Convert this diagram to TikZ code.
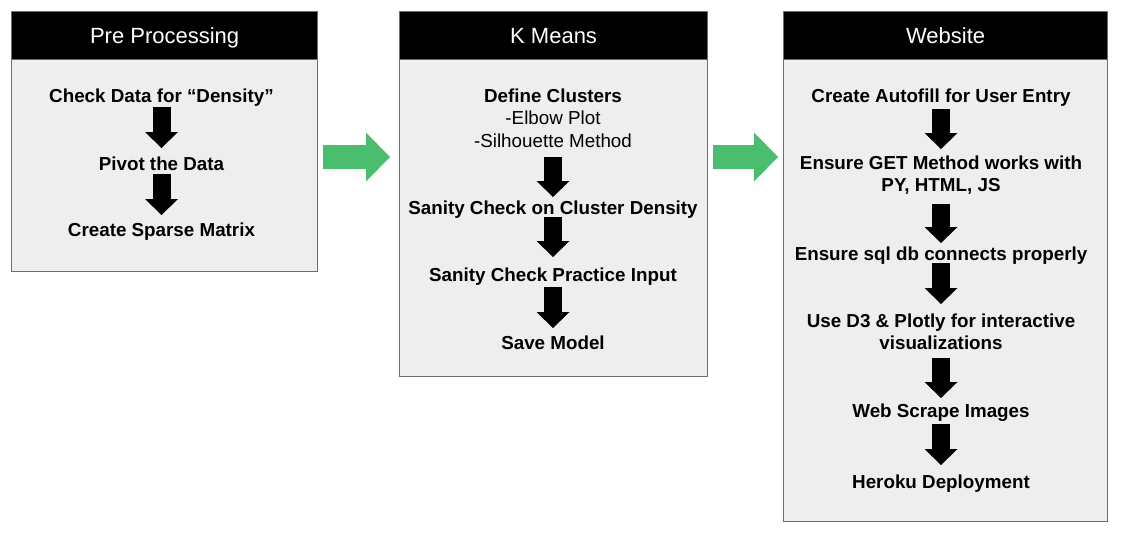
\documentclass[tikz,border=0pt]{standalone}
\usepackage{fontspec}
\setmainfont{Liberation Sans}
\usetikzlibrary{arrows.meta}
\definecolor{panelgray}{RGB}{238,238,238}
\definecolor{edgegray}{RGB}{110,110,110}
\definecolor{flowgreen}{RGB}{74,189,110}
\tikzset{
x=1pt, y=1pt, % one unit is one pixel of the slide
head/.style={draw=edgegray, line width=1.2pt, fill=black, text=white, font=\fontsize{22}{26}\selectfont, anchor=north west, minimum height=48pt, text height=15.5pt, text depth=0pt}, % black title bar of a stage
panel/.style={draw=edgegray, line width=1.2pt, fill=panelgray, anchor=north west}, % gray body of a stage
task/.style={font=\fontsize{18.8}{22.5}\selectfont\bfseries, align=center, anchor=base, inner sep=0pt}, % one step inside a stage (base = last line)
down/.style={line width=18pt, -{Triangle[width=33pt, length=16pt, line width=0pt]}}, % fat black arrow between steps
flow/.style={line width=24pt, flowgreen, -{Triangle[width=49pt, length=24pt, line width=0pt]}}, % green arrow between stages
}

\begin{document}
\begin{tikzpicture}
    \useasboundingbox (0,0) rectangle (1124,-542);
    % stages
    \node[panel, minimum width=306pt, minimum height=212pt] (pre) at (11,-59) {};
    \node[head, minimum width=306pt] (hpre) at (11,-11) {Pre Processing};
    \node[panel, minimum width=308pt, minimum height=317pt] (km) at (399,-59) {};
    \node[head, minimum width=308pt] (hkm) at (399,-11) {K Means};
    \node[panel, minimum width=324pt, minimum height=462pt] (web) at (783,-59) {};
    \node[head, minimum width=324pt] (hweb) at (783,-11) {Website};

    % steps
    \node[task] (check) at (161.5,-102) {Check Data for “Density”};
    \node[task] (pivot) at (161.5,-170.5) {Pivot the Data};
    \node[task] (sparse) at (161.5,-236.5) {Create Sparse Matrix};

    \node[task] (clusters) at (553,-147) {Define Clusters\\{\mdseries -Elbow Plot}\\{\mdseries -Silhouette Method}};
    \node[task] (density) at (553,-214.5) {Sanity Check on Cluster Density};
    \node[task] (practice) at (553,-281.5) {Sanity Check Practice Input};
    \node[task] (save) at (553,-349.5) {Save Model};

    \node[task] (autofill) at (941,-102.5) {Create Autofill for User Entry};
    \node[task] (get) at (941,-191.5) {Ensure GET Method works with\\PY, HTML, JS};
    \node[task] (sql) at (941,-260.5) {Ensure sql db connects properly};
    \node[task] (plotly) at (941,-349.5) {Use D3 \& Plotly for interactive\\visualizations};
    \node[task] (scrape) at (941,-417.5) {Web Scrape Images};
    \node[task] (heroku) at (941,-488.5) {Heroku Deployment};

    \path (check.base) edge[down, shorten <=5pt, shorten >=22.5pt] (pivot.base)
    (pivot.base) edge[down, shorten <=3.5pt, shorten >=21.5pt] (sparse.base)
    (clusters.base) edge[down, shorten <=10pt, shorten >=17.5pt] (density.base)
    (density.base) edge[down, shorten <=2.5pt, shorten >=24.5pt] (practice.base)
    (practice.base) edge[down, shorten <=5.5pt, shorten >=21.5pt] (save.base)
    (autofill.base) edge[down, shorten <=6.5pt, shorten >=42.5pt] (get.base)
    (get.base) edge[down, shorten <=12.5pt, shorten >=17.5pt] (sql.base)
    (sql.base) edge[down, shorten <=2.5pt, shorten >=45.5pt] (plotly.base)
    (plotly.base) edge[down, shorten <=8.5pt, shorten >=19.5pt] (scrape.base)
    (scrape.base) edge[down, shorten <=6.5pt, shorten >=23.5pt] (heroku.base);

    % between the stages
    \coordinate (gy) at (0,-157);
    \draw[flow, shorten <=5pt, shorten >=9pt] (pre.east |- gy) -- (km.west |- gy);
    \draw[flow, shorten <=5pt, shorten >=5pt] (km.east |- gy) -- (web.west |- gy);
  \end{tikzpicture}
\end{document}
